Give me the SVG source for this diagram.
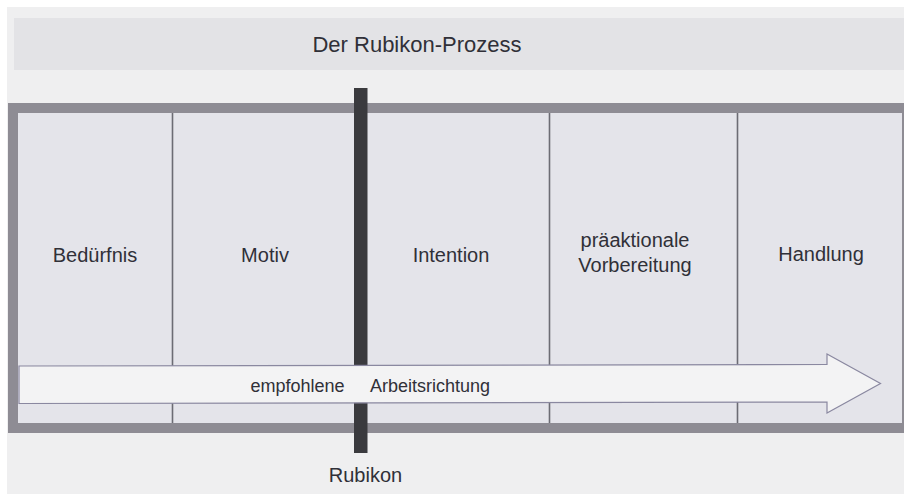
<svg xmlns="http://www.w3.org/2000/svg" width="904" height="494" viewBox="0 0 904 494">
<style>
.lbl{font-family:"Liberation Sans",Arial,sans-serif;font-size:20px;fill:#303038;text-anchor:middle}
.small{font-size:18px}
.div{stroke:#6c6c74;stroke-width:1.6}
</style>
<rect x="0" y="0" width="904" height="494" fill="#ffffff"/>
<rect x="7" y="7" width="897" height="487" fill="#efeff0"/>
<rect x="14" y="18" width="890" height="52" fill="#e3e3e6"/>
<g id="title"><text class="lbl" x="417" y="52" style="font-size:22px">Der Rubikon-Prozess</text></g>
<g id="frame">
<rect x="13" y="108" width="894" height="320" fill="#e4e4ea" stroke="#8e8c94" stroke-width="10"/>
</g>
<g id="cells">
<g id="beduerfnis"><text class="lbl" x="95" y="262">Bedürfnis</text></g>
<line class="div" x1="172.5" y1="113" x2="172.5" y2="423"/>
<g id="motiv"><text class="lbl" x="265" y="262">Motiv</text></g>
<g id="intention"><text class="lbl" x="451" y="262">Intention</text></g>
<line class="div" x1="549.5" y1="113" x2="549.5" y2="423"/>
<g id="praeaktionale"><text class="lbl" x="635" y="247">präaktionale</text><text class="lbl" x="635" y="272">Vorbereitung</text></g>
<line class="div" x1="737.5" y1="113" x2="737.5" y2="423"/>
<g id="handlung"><text class="lbl" x="821" y="261">Handlung</text></g>
</g>
<g id="rubikon">
<rect x="354" y="88" width="13.5" height="365" fill="#3a3a3e"/>
<text class="lbl" x="365.5" y="482">Rubikon</text>
</g>
<g id="connectors">
<polygon points="19,366 827,364.5 827,354 880.5,383.5 827,413 827,402 19,403.5" fill="#f3f3f4" stroke="#8a88a0" stroke-width="1.2"/>
<text class="lbl small" x="297.5" y="392">empfohlene</text>
<text class="lbl small" x="430" y="392">Arbeitsrichtung</text>
</g>
</svg>
